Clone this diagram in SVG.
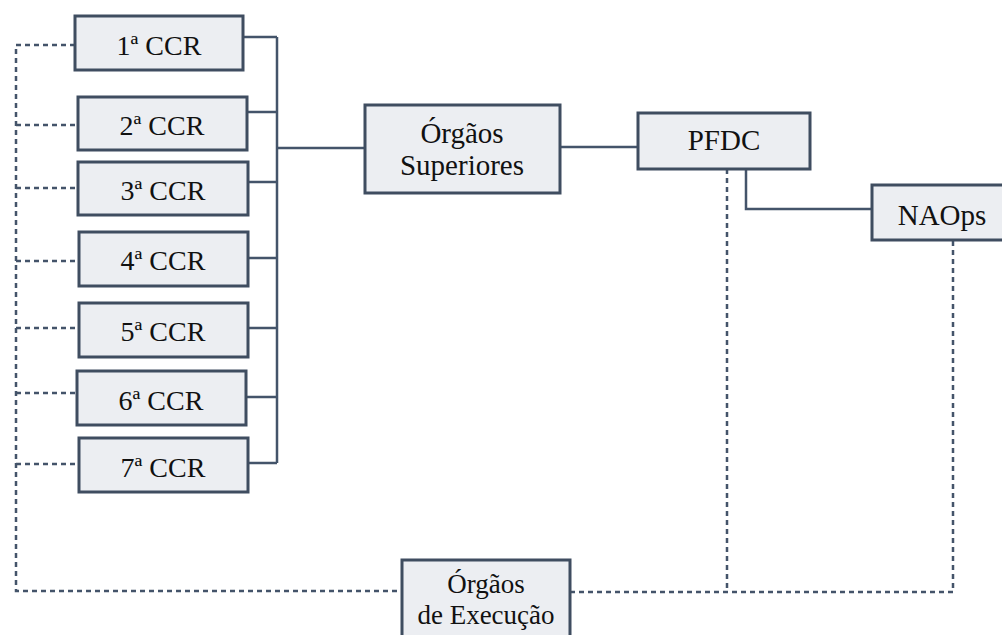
<svg xmlns="http://www.w3.org/2000/svg" width="1002" height="635" viewBox="0 0 1002 635">
<style>
.box{fill:#eceef2;stroke:#3f4d60;stroke-width:3}
.t{font-family:"Liberation Serif","Times New Roman",serif;font-size:28px;fill:#111;text-anchor:middle}
.t2{font-family:"Liberation Serif","Times New Roman",serif;font-size:29px;fill:#111;text-anchor:middle}
.t3{font-family:"Liberation Serif","Times New Roman",serif;font-size:27px;fill:#111;text-anchor:middle}
.solid{fill:none;stroke:#44546a;stroke-width:2.5}
.dot{fill:none;stroke:#44546a;stroke-width:2.5;stroke-dasharray:5 4}
</style>
<rect width="1002" height="635" fill="#ffffff"/>
<g id="connectors">
<path class="solid" d="M243 37H277M247 112H277M248 182H277M248 258H277M248 328H277M246 397H277M248 463H277M277 37V463"/>
<path class="solid" d="M277 148H365"/>
<path class="solid" d="M560 147H638"/>
<path class="solid" d="M746 169V209H872"/>
<path class="dot" d="M75 45H16V591H402"/>
<path class="dot" d="M16 125H78M16 188H78M16 261H79M16 328H79M16 393H77M16 464H79"/>
<path class="dot" d="M570 592H953V240"/>
<path class="dot" d="M727 169V592"/>
</g>
<g id="ccr1"><rect class="box" x="75" y="16" width="168" height="54"/><text class="t" x="159" y="55">1ª CCR</text></g>
<g id="ccr2"><rect class="box" x="78" y="97" width="169" height="53"/><text class="t" x="162" y="135">2ª CCR</text></g>
<g id="ccr3"><rect class="box" x="78" y="162" width="170" height="53"/><text class="t" x="163" y="200">3ª CCR</text></g>
<g id="ccr4"><rect class="box" x="79" y="232" width="169" height="54"/><text class="t" x="163" y="270">4ª CCR</text></g>
<g id="ccr5"><rect class="box" x="79" y="303" width="169" height="54"/><text class="t" x="163" y="341">5ª CCR</text></g>
<g id="ccr6"><rect class="box" x="77" y="371" width="169" height="54"/><text class="t" x="161" y="410">6ª CCR</text></g>
<g id="ccr7"><rect class="box" x="79" y="438" width="169" height="54"/><text class="t" x="163" y="477">7ª CCR</text></g>
<g id="orgaos-superiores"><rect class="box" x="365" y="105" width="195" height="88"/><text class="t2" x="462" y="143">Órgãos</text><text class="t2" x="462" y="175">Superiores</text></g>
<g id="pfdc"><rect class="box" x="638" y="113" width="172" height="56"/><text class="t2" x="724" y="150">PFDC</text></g>
<g id="naops"><rect class="box" x="872" y="185" width="135" height="55"/><text class="t2" x="942" y="225">NAOps</text></g>
<g id="orgaos-execucao"><rect class="box" x="402" y="560" width="168" height="80"/><text class="t3" x="486" y="593">Órgãos</text><text class="t3" x="486" y="624">de Execução</text></g>
</svg>
